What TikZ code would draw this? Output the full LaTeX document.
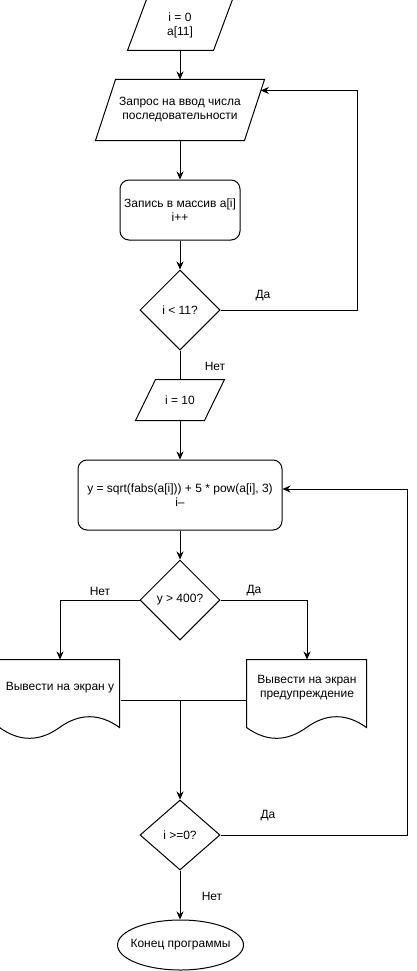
\documentclass[tikz,border=0pt]{standalone}
\usepackage{fontspec}
\setmainfont{Liberation Sans}
\usetikzlibrary{arrows.meta,shapes.geometric,calc}
\begin{document}
\begin{tikzpicture}[x=1pt,y=-1pt,line width=1pt,
  font=\fontsize{12}{14}\selectfont,
  flow/.style={-{Stealth[length=8pt,width=7pt]}},
  frame/.style args={#1x#2}{minimum width=#1pt,minimum height=#2pt,inner sep=0pt,align=center},
  roundbox/.style={draw,rounded corners=9pt},
  decision/.style={draw,diamond,inner sep=0pt},
  lbl/.style={inner sep=0pt}]
\useasboundingbox (0,0) rectangle (416,971);

% input parallelogram 1
\node[frame=104x50] (p1) at (180,25) {i = 0\\a[11]};
\draw ([xshift=19pt]p1.north west) -- (p1.north east) -- ([xshift=-19pt]p1.south east) -- (p1.south west) -- cycle;

% input parallelogram 2
\node[frame=168x60] (p2) at (180,110) {Запрос на ввод числа\\последовательности};
\draw ([xshift=20pt]p2.north west) -- (p2.north east) -- ([xshift=-20pt]p2.south east) -- (p2.south west) -- cycle;
\coordinate (p2in) at ($(p2.north east)+(-3.7,11)$);

% process box
\node[frame=120x60,roundbox] (b3) at (180,210) {Запись в массив a[i]\\i++};

% decision 1
\node[decision,minimum width=80pt,minimum height=80pt] (d4) at (180,310) {i < 11?};

% parallelogram i = 10
\node[frame=88x40] (p5) at (180,400) {i = 10};
\draw ([xshift=20pt]p5.north west) -- (p5.north east) -- ([xshift=-20pt]p5.south east) -- (p5.south west) -- cycle;

% computation box
\node[frame=204x70,roundbox] (b6) at (180,495) {y = sqrt(fabs(a[i])) + 5 * pow(a[i], 3)\\i–};
\coordinate (b6in) at ($(b6.east)+(0,-6)$);

% decision 2
\node[decision,minimum width=80pt,minimum height=80pt] (d7) at (180,600) {y > 400?};

% documents
\node[frame=120x80] (o1) at (60,700) {};
\node[frame=120x80] (o2) at (307,700) {};
\foreach \d in {o1,o2}{
  \begin{scope}[shift={(\d.north west)}]
    \draw (0,0) -- (120,0) -- (120,68)
      .. controls (100,53.6) and (80,53.6) .. (60,68)
      .. controls (40,82.4) and (20,82.4) .. (0,68) -- cycle;
  \end{scope}
}
\node[lbl,align=center] (t1) at (60,688) {Вывести на экран y};
\node[lbl,align=center] (t2) at (307,688) {Вывести на экран\\предупреждение};

% decision 3
\node[decision,minimum width=80pt,minimum height=70pt] (d9) at (180,835) {i >=0?};

% terminal
\node[frame=126x50] (e10) at (180.5,945) {Конец программы};
\draw (e10.center) ellipse [x radius=63pt, y radius=25pt];

% connectors
\draw[flow] (p1) -- (p2);
\draw[flow] (p2) -- (b3);
\draw[flow] (b3) -- (d4);
\draw[flow] (d4.east) -- ++(137,0) |- (p2in);
\node[lbl] (l1) at (263,296) {Да};
\draw (d4.south) -- (p5.north);
\node[lbl] (l2) at (215,366) {Нет};
\draw[flow] (p5) -- (b6);
\draw[flow] (b6) -- (d7);
\draw[flow] (d7.west) -| (o1.north);
\node[lbl] (l3) at (100,591) {Нет};
\draw[flow] (d7.east) -| (o2.north);
\node[lbl] (l4) at (254,591) {Да};
\coordinate (j) at (180,700);
\draw (o1.east) -- (j);
\draw (o2.west) -- (j);
\draw[flow] (j) -- (d9.north);
\draw[flow] (d9.east) -- ++(187,0) |- (b6in);
\node[lbl] (l5) at (268,816) {Да};
\draw[flow] (d9.south) -- (e10.north -| d9.south);
\node[lbl] (l6) at (212,896) {Нет};
\end{tikzpicture}
\end{document}
